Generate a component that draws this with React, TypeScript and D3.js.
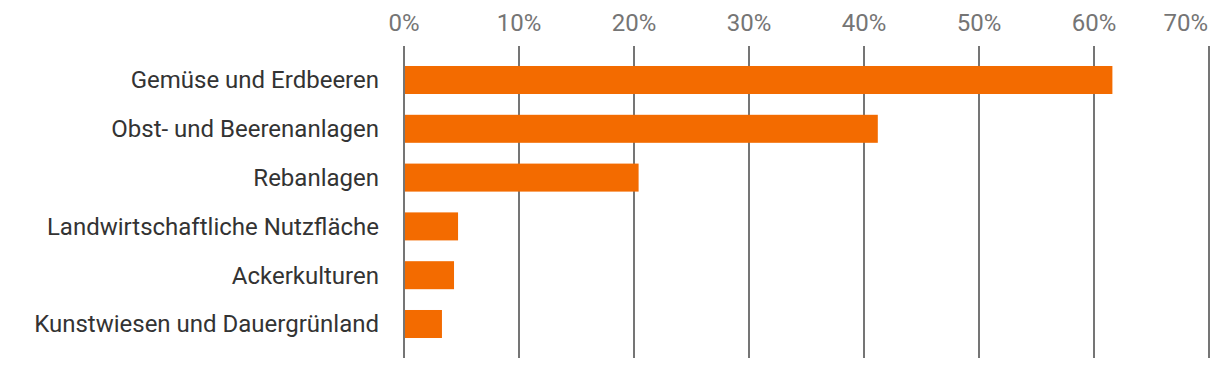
import React from 'react';
import * as d3 from 'd3';

const categories = [
  'Gemüse und Erdbeeren',
  'Obst- und Beerenanlagen',
  'Rebanlagen',
  'Landwirtschaftliche Nutzfläche',
  'Ackerkulturen',
  'Kunstwiesen und Dauergrünland',
];
const values = [0.616, 0.412, 0.204, 0.047, 0.0435, 0.033];
const ticks = [0, 0.1, 0.2, 0.3, 0.4, 0.5, 0.6, 0.7];

const W = 1220;
const H = 368;

export default function App() {
  const x = d3.scaleLinear().domain([0, 0.7]).range([404, 1209]);
  const y = d3
    .scaleBand<string>()
    .domain(categories)
    .range([55.6, 348.4])
    .paddingInner(0.426)
    .paddingOuter(0.213);
  const fmt = d3.format('.0%');
  const last = ticks[ticks.length - 1];

  return (
    <svg
      width={W}
      height={H}
      style={{ position: 'absolute', left: 0, top: 0, fontFamily: 'Roboto, sans-serif' }}
    >
      {/* gridlines + top axis labels */}
      {ticks.map((t) => (
        <g key={t}>
          <line x1={x(t)} x2={x(t)} y1={46} y2={358} stroke="#757575" strokeWidth={2} />
          <text
            x={t === last ? x(t) - 1 : x(t)}
            y={31}
            textAnchor={t === last ? 'end' : 'middle'}
            fontSize={24}
            fill="#757575"
          >
            {fmt(t)}
          </text>
        </g>
      ))}
      {/* bars */}
      {categories.map((c, i) => (
        <rect
          key={c}
          x={x(0) + 1}
          y={y(c)}
          width={x(values[i]) - x(0) - 1}
          height={y.bandwidth()}
          fill="#f36b00"
        />
      ))}
      {/* category labels */}
      {categories.map((c) => (
        <text
          key={c}
          x={379}
          y={(y(c) ?? 0) + y.bandwidth() / 2}
          dy="0.35em"
          textAnchor="end"
          fontSize={24}
          fill="#333"
        >
          {c}
        </text>
      ))}
    </svg>
  );
}
